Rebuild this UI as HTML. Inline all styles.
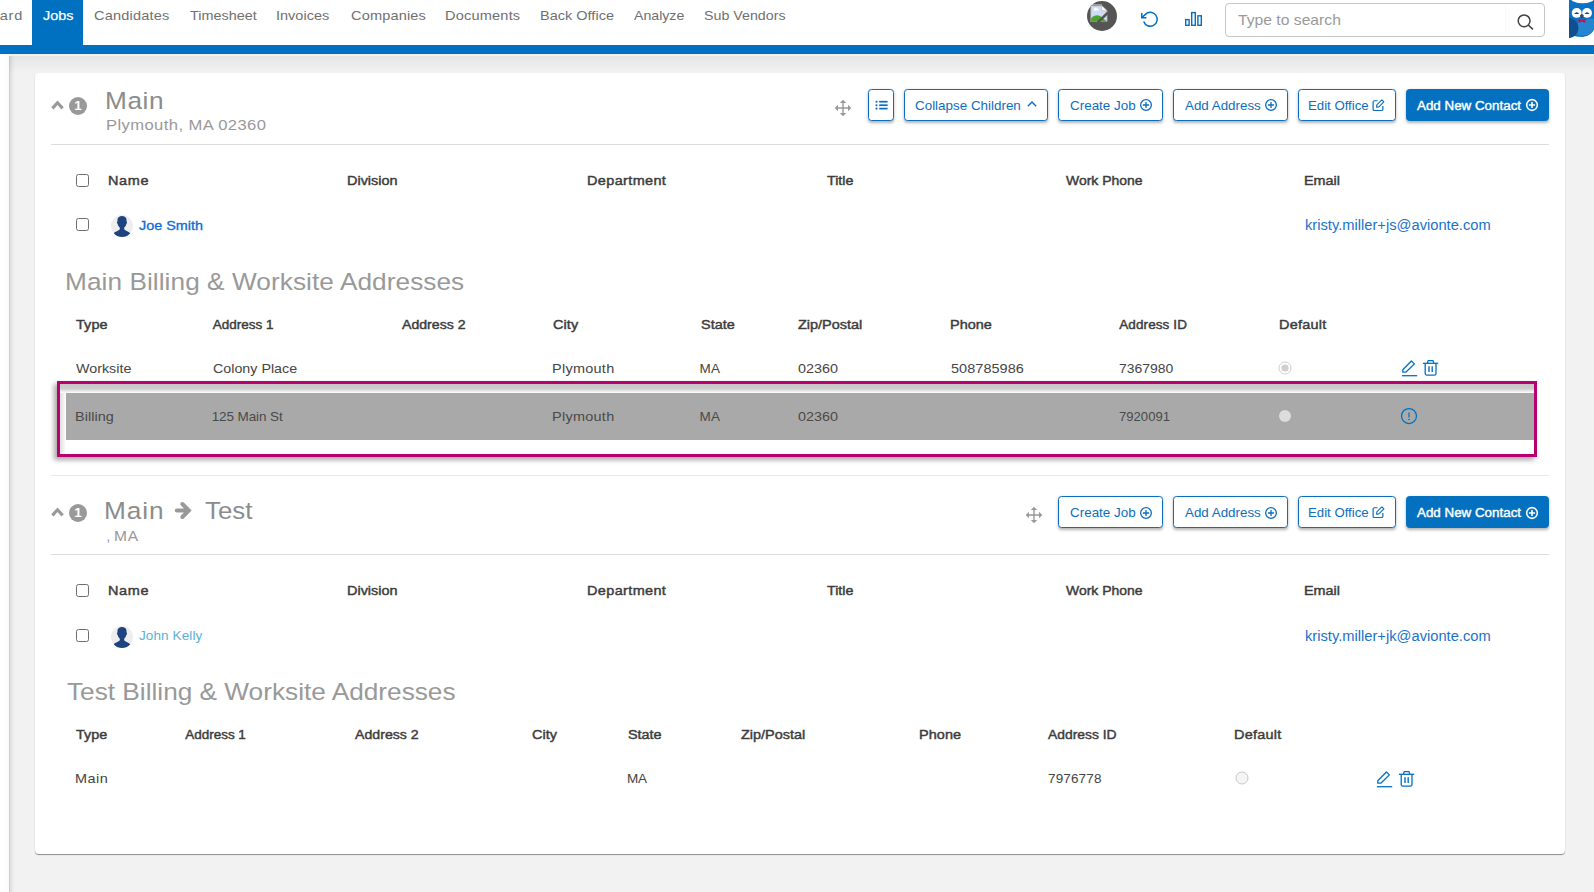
<!DOCTYPE html>
<html lang="en"><head><meta charset="utf-8"><title>Companies - Contacts</title>
<style>
html,body{margin:0;padding:0}
body{width:1594px;height:892px;overflow:hidden;position:relative;background:#f2f2f2;font-family:"Liberation Sans", sans-serif;}
.t{position:absolute;white-space:pre;}
.a{position:absolute;}

.nav{position:absolute;left:0;top:0;width:1594px;height:45px;background:#fff;}
.bar{position:absolute;left:0;top:45px;width:1594px;height:9px;background:#0070c0;}
.tab{position:absolute;left:32px;top:0;width:51px;height:46px;background:#0070c0;}
.main{position:absolute;left:9px;top:55.5px;width:1585px;height:837px;background:linear-gradient(90deg,rgba(0,0,0,.17) 0,rgba(0,0,0,.06) 2px,rgba(0,0,0,0) 6px),linear-gradient(#e5e5e5,#f2f2f2 17px),#f2f2f2;}
.side{position:absolute;left:0;top:54px;width:9px;height:838px;background:linear-gradient(90deg,#fff 0,#fefefe 50%,#fafafa 100%);}
.card{position:absolute;left:35px;top:73px;width:1530px;height:781px;background:#fff;border-radius:4px;box-shadow:0 1px 1px rgba(0,0,0,.42);}
.hr{position:absolute;left:51px;width:1498px;height:1px;background:#dcdcdc;}
.btn{position:absolute;height:30px;border:1px solid #0e6ebd;border-radius:3.5px;background:#fff;box-shadow:0 1.5px 3px rgba(0,0,0,.3);}
.btn.p{background:#0470c0;border-color:#0470c0;}
.cb{position:absolute;width:11px;height:11px;border:1px solid #6e6e6e;border-radius:2.5px;background:#fff;}
.circ{position:absolute;width:18px;height:18px;border-radius:50%;background:#999;}
.hl{position:absolute;left:57px;top:381px;width:1474px;height:70px;border:3px solid #b8006e;background:#fff;box-shadow:-3px 3px 5px rgba(0,0,0,.35);}
.hlg{position:absolute;left:60px;top:384px;width:1474px;height:8.5px;background:linear-gradient(#c6c6c6,#cccccc 50%,#fff);}
.hlg2{position:absolute;left:60px;top:388px;width:6px;height:66px;background:linear-gradient(90deg,#dedede,#fff);}
.grow{position:absolute;left:66px;top:392.5px;width:1468px;height:47px;background:#a9a9a9;}
svg{position:absolute;overflow:visible}

</style></head><body>

<div class="nav"></div><div class="side"></div><div class="main"></div><div class="bar"></div><div class="tab"></div>
<div class="card"></div>
<div class="hr" style="top:144px"></div>
<div class="hr" style="top:475px;background:#e8e8e8"></div>
<div class="hr" style="top:554px"></div>
<div class="hl"></div><div class="hlg2"></div><div class="hlg"></div><div class="grow"></div>
<svg style="left:1087px;top:1px" width="30" height="30" viewBox="0 0 30 30"><circle cx="15" cy="15" r="15" fill="#555"/><g transform="translate(0.2,0.8)">
<path d="M3.6 3.9H14.6L19.9 9V20H3.6Z" fill="#cfdcf6" stroke="#a8a8a8" stroke-width="0.7"/>
<path d="M3.4 2.9H14.8" stroke="#d8d8d8" stroke-width="0.7"/>
<path d="M14.6 3.9V9H19.9Z" fill="#fff" stroke="#b0b0b0" stroke-width="0.6"/>
<ellipse cx="9" cy="7.7" rx="2.7" ry="1.2" fill="#fff"/><circle cx="8.3" cy="7" r="1.2" fill="#fff"/>
<path d="M3.9 19.8V16.5C7 12.3 12.5 12.5 15.3 16L19.6 19.8Z" fill="#4aa52f"/>
<path d="M10.6 20.6L20.6 11" stroke="#555" stroke-width="2.6"/><path d="M3.2 20.5H20.3" stroke="#555" stroke-width="1"/></g></svg>
<svg style="left:1140.6px;top:9.7px" width="18.5" height="18.5" viewBox="0 0 24 24"><g fill="none" stroke="#0070c0" stroke-width="1.95"><path d="M1 4V10H7"/><path d="M3.51 15A9 9 0 1 0 5.64 5.64L1 10"/></g></svg>
<svg style="left:1184px;top:11px" width="19" height="16" viewBox="0 0 19 16"><g fill="none" stroke="#0070c0" stroke-width="1.4"><rect x="1.7" y="8.6" width="3.4" height="5.7"/><rect x="7.7" y="1.6" width="3.6" height="12.7"/><rect x="13.9" y="4.8" width="3.4" height="9.5"/></g></svg>
<div class="a" style="left:1225px;top:3px;width:318px;height:31.5px;border:1px solid #c6c6c6;border-radius:4px;background:#fff"></div>
<div class="a" style="left:1505px;top:4px;width:1px;height:32px;background:#f8f8f8"></div>
<svg style="left:1516px;top:13px" width="18" height="18" viewBox="0 0 18 18"><circle cx="8.1" cy="7.8" r="5.9" fill="none" stroke="#444" stroke-width="1.5"/><path d="M12.3 12L16.9 16.3" stroke="#444" stroke-width="1.6"/></svg>
<svg style="left:1569px;top:0px" width="25" height="39" viewBox="0 0 25 39"><defs><clipPath id="owl"><rect width="25" height="39"/></clipPath></defs><g clip-path="url(#owl)">
<path d="M0 0H26V24C26 32 20 36.9 13 36.9C8 36.9 3 36 0 33Z" fill="#0a72c4"/>
<path d="M9 23C12 20 22 18 25.5 19V26C25 32 20 35.6 13.5 35.6C10 35.6 8 34.5 6.5 33.5Z" fill="#2585cf"/>
<circle cx="-0.8" cy="28" r="10.3" fill="#0f4f8f"/>
<ellipse cx="13.5" cy="-2" rx="12" ry="5.3" fill="#fff"/>
<circle cx="7.7" cy="12.9" r="4.95" fill="#fff"/><circle cx="18" cy="12.9" r="4.95" fill="#fff"/>
<path d="M5.2 14Q7.7 10.6 10.2 14ZM15.5 14Q18 10.6 20.5 14Z" fill="#0a3d7a"/>
<path d="M12.9 13.8L14.9 15.6L13.6 18.3H12.2L10.9 15.6Z" fill="#3a4a6a"/>
<path d="M9.6 18.7L13 20.2L16.4 18.7V22.8L13 21.4L9.6 22.8Z" fill="#c8104a"/>
</g></svg>
<div class="circ" style="left:69px;top:97px"></div><div class="circ" style="left:69px;top:504px"></div>
<svg style="left:50.7px;top:100.2px" width="13" height="10" viewBox="0 0 12.4 9"><path d="M1.3 7.7L6.2 2.4L11.1 7.7" fill="none" stroke="#999" stroke-width="3"/></svg>
<svg style="left:51px;top:507.3px" width="13" height="10" viewBox="0 0 12.4 9"><path d="M1.3 7.7L6.2 2.4L11.1 7.7" fill="none" stroke="#999" stroke-width="3"/></svg>
<svg style="left:170px;top:500px" width="26" height="21" viewBox="170 500 26 21"><path d="M176.8 510.5H188M182.4 504L188.8 510.5L182.4 517" fill="none" stroke="#999" stroke-width="4" stroke-linecap="round" stroke-linejoin="miter"/></svg>
<svg style="left:834px;top:99px" width="18" height="18" viewBox="-9 -9 18 18"><path d="M-6.5 0H6.5M0 -6.5V6.5" stroke="#999" stroke-width="1.4" fill="none"/><path d="M-3.2 -5L0 -8.3L3.2 -5ZM-3.2 5L0 8.3L3.2 5ZM-5 -3.2L-8.3 0L-5 3.2ZM5 -3.2L8.3 0L5 3.2Z" fill="#999"/></svg>
<svg style="left:1024.6px;top:506.4px" width="18" height="18" viewBox="-9 -9 18 18"><path d="M-6.5 0H6.5M0 -6.5V6.5" stroke="#999" stroke-width="1.4" fill="none"/><path d="M-3.2 -5L0 -8.3L3.2 -5ZM-3.2 5L0 8.3L3.2 5ZM-5 -3.2L-8.3 0L-5 3.2ZM5 -3.2L8.3 0L5 3.2Z" fill="#999"/></svg>
<div class="btn" style="left:868px;top:89px;width:24px"></div>
<svg style="left:874.5px;top:99.5px" width="13" height="11" viewBox="0 0 13 11"><g fill="#0470c0"><circle cx="1.5" cy="1.7" r="1.05"/><circle cx="1.5" cy="5.2" r="1.05"/><circle cx="1.5" cy="8.6" r="1.05"/><rect x="4.2" y="0.85" width="8.4" height="1.7"/><rect x="4.2" y="4.35" width="8.4" height="1.7"/><rect x="4.2" y="7.75" width="8.4" height="1.7"/></g></svg>
<div class="btn" style="left:904px;top:89px;width:142px"></div>
<svg style="left:1026.5px;top:100px" width="10" height="8" viewBox="0 0 10 8"><path d="M0.8 6.2L5 1.9L9.2 6.2" fill="none" stroke="#0e6ebd" stroke-width="1.4"/></svg>
<div class="btn" style="left:1058px;top:89px;width:103px"></div>
<svg style="left:1139px;top:98.1px" width="14" height="14" viewBox="-7 -7 14 14"><circle r="5.35" fill="none" stroke="#0e6ebd" stroke-width="1.3"/><path d="M-3.1 0H3.1M0 -3.1V3.1" stroke="#0e6ebd" stroke-width="1.3" fill="none"/></svg>
<div class="btn" style="left:1173px;top:89px;width:113px"></div>
<svg style="left:1263.5px;top:98.1px" width="14" height="14" viewBox="-7 -7 14 14"><circle r="5.35" fill="none" stroke="#0e6ebd" stroke-width="1.3"/><path d="M-3.1 0H3.1M0 -3.1V3.1" stroke="#0e6ebd" stroke-width="1.3" fill="none"/></svg>
<div class="btn" style="left:1298px;top:89px;width:96px"></div>
<svg style="left:1371.6px;top:98.89999999999999px" width="13" height="13" viewBox="0 0 14 14"><path d="M6 1.9H2.6A1.4 1.4 0 0 0 1.2 3.3V11A1.4 1.4 0 0 0 2.6 12.4H10.3A1.4 1.4 0 0 0 11.7 11V7.6" fill="none" stroke="#0e6ebd" stroke-width="1.3"/><path d="M10.6 0.9L12.8 3.1L7.4 8.5L4.9 8.9L5.2 6.3Z" fill="none" stroke="#0e6ebd" stroke-width="1.2" stroke-linejoin="round"/></svg>
<div class="btn p" style="left:1406px;top:89px;width:141px"></div>
<svg style="left:1525px;top:98.1px" width="14" height="14" viewBox="-7 -7 14 14"><circle r="5.35" fill="none" stroke="#fff" stroke-width="1.6"/><path d="M-3.1 0H3.1M0 -3.1V3.1" stroke="#fff" stroke-width="1.6" fill="none"/></svg>
<div class="btn" style="left:1058px;top:496.3px;width:103px"></div>
<svg style="left:1139px;top:505.5px" width="14" height="14" viewBox="-7 -7 14 14"><circle r="5.35" fill="none" stroke="#0e6ebd" stroke-width="1.3"/><path d="M-3.1 0H3.1M0 -3.1V3.1" stroke="#0e6ebd" stroke-width="1.3" fill="none"/></svg>
<div class="btn" style="left:1173px;top:496.3px;width:113px"></div>
<svg style="left:1263.5px;top:505.5px" width="14" height="14" viewBox="-7 -7 14 14"><circle r="5.35" fill="none" stroke="#0e6ebd" stroke-width="1.3"/><path d="M-3.1 0H3.1M0 -3.1V3.1" stroke="#0e6ebd" stroke-width="1.3" fill="none"/></svg>
<div class="btn" style="left:1298px;top:496.3px;width:96px"></div>
<svg style="left:1371.6px;top:506.3px" width="13" height="13" viewBox="0 0 14 14"><path d="M6 1.9H2.6A1.4 1.4 0 0 0 1.2 3.3V11A1.4 1.4 0 0 0 2.6 12.4H10.3A1.4 1.4 0 0 0 11.7 11V7.6" fill="none" stroke="#0e6ebd" stroke-width="1.3"/><path d="M10.6 0.9L12.8 3.1L7.4 8.5L4.9 8.9L5.2 6.3Z" fill="none" stroke="#0e6ebd" stroke-width="1.2" stroke-linejoin="round"/></svg>
<div class="btn p" style="left:1406px;top:496.3px;width:141px"></div>
<svg style="left:1525px;top:505.5px" width="14" height="14" viewBox="-7 -7 14 14"><circle r="5.35" fill="none" stroke="#fff" stroke-width="1.6"/><path d="M-3.1 0H3.1M0 -3.1V3.1" stroke="#fff" stroke-width="1.6" fill="none"/></svg>
<div class="cb" style="left:76px;top:174px"></div>
<div class="cb" style="left:76px;top:218.3px"></div>
<svg style="left:111px;top:215.2px" width="22" height="22" viewBox="-11 -11 22 22"><defs><clipPath id="c226"><circle r="11"/></clipPath></defs><circle r="11" fill="#eeeeee"/><g clip-path="url(#c226)"><path d="M-4.5 -6.5C-4.5 -11.2 4.5 -11.2 4.5 -6.5V-4.6C5.3 -4.6 5.3 -2.6 4.4 -2.3C4 -0.5 3.2 0.8 2.2 1.6V3.2C3 5 7.2 5.2 8.4 7.6V12H-8.4V7.6C-7.2 5.2 -3 5 -2.2 3.2V1.6C-3.2 0.8 -4 -0.5 -4.4 -2.3C-5.3 -2.6 -5.3 -4.6 -4.5 -4.6Z" fill="#1f437f"/></g></svg>
<div class="cb" style="left:76px;top:584.3px"></div>
<div class="cb" style="left:76px;top:628.6px"></div>
<svg style="left:111px;top:625.5px" width="22" height="22" viewBox="-11 -11 22 22"><defs><clipPath id="c636"><circle r="11"/></clipPath></defs><circle r="11" fill="#eeeeee"/><g clip-path="url(#c636)"><path d="M-4.5 -6.5C-4.5 -11.2 4.5 -11.2 4.5 -6.5V-4.6C5.3 -4.6 5.3 -2.6 4.4 -2.3C4 -0.5 3.2 0.8 2.2 1.6V3.2C3 5 7.2 5.2 8.4 7.6V12H-8.4V7.6C-7.2 5.2 -3 5 -2.2 3.2V1.6C-3.2 0.8 -4 -0.5 -4.4 -2.3C-5.3 -2.6 -5.3 -4.6 -4.5 -4.6Z" fill="#1f437f"/></g></svg>
<svg style="left:1278.3px;top:360.6px" width="14" height="14" viewBox="-7 -7 14 14"><circle r="6" fill="#fff" stroke="#cfcfcf" stroke-width="1"/><circle r="3.6" fill="#cfcfcf"/></svg>
<svg style="left:1278.3px;top:408.7px" width="14" height="14" viewBox="-7 -7 14 14"><circle r="6" fill="#dcdcdc"/></svg>
<svg style="left:1401.7px;top:359.9px" width="16" height="17" viewBox="0 0 16 17"><path d="M0.8 9.8L9.4 1L12.4 3.9L3.8 12.2H0.8Z" fill="none" stroke="#0470c0" stroke-width="1.3" stroke-linejoin="round"/><path d="M0 15.7H15.2" stroke="#0470c0" stroke-width="1.3"/></svg>
<svg style="left:1423.2px;top:360.3px" width="16" height="17" viewBox="0 0 16 17"><path d="M0 3.3H15.2" stroke="#0470c0" stroke-width="1.3"/><path d="M4.4 3.3L5.1 0.65H10.1L10.8 3.3" fill="none" stroke="#0470c0" stroke-width="1.3" stroke-linejoin="round"/><path d="M2.2 3.3V13.6A1.5 1.5 0 0 0 3.7 15.1H11.5A1.5 1.5 0 0 0 13 13.6V3.3" fill="none" stroke="#0470c0" stroke-width="1.3"/><path d="M6 6.3V12M9.2 6.3V12" stroke="#0470c0" stroke-width="1.4"/></svg>
<svg style="left:1400.2px;top:407.1px" width="18" height="18" viewBox="-9 -9 18 18"><circle r="7.5" fill="none" stroke="#0070c0" stroke-width="1.25"/><path d="M0 -3.4V1.6" stroke="#0070c0" stroke-width="1.2"/><circle cy="3.5" r="0.8" fill="#0070c0"/></svg>
<svg style="left:1234.5px;top:771px" width="14" height="14" viewBox="-7 -7 14 14"><circle r="6" fill="#f5f5f5" stroke="#c8c8c8" stroke-width="1"/></svg>
<svg style="left:1376.8px;top:770.6px" width="16" height="17" viewBox="0 0 16 17"><path d="M0.8 9.8L9.4 1L12.4 3.9L3.8 12.2H0.8Z" fill="none" stroke="#0470c0" stroke-width="1.3" stroke-linejoin="round"/><path d="M0 15.7H15.2" stroke="#0470c0" stroke-width="1.3"/></svg>
<svg style="left:1399.2px;top:770.9px" width="16" height="17" viewBox="0 0 16 17"><path d="M0 3.3H15.2" stroke="#0470c0" stroke-width="1.3"/><path d="M4.4 3.3L5.1 0.65H10.1L10.8 3.3" fill="none" stroke="#0470c0" stroke-width="1.3" stroke-linejoin="round"/><path d="M2.2 3.3V13.6A1.5 1.5 0 0 0 3.7 15.1H11.5A1.5 1.5 0 0 0 13 13.6V3.3" fill="none" stroke="#0470c0" stroke-width="1.3"/><path d="M6 6.3V12M9.2 6.3V12" stroke="#0470c0" stroke-width="1.4"/></svg>

<span class="t" style="left:-54.57px;top:8.69px;font-size:13.6px;line-height:13.6px;color:#707070;letter-spacing:0.712px;transform:scaleX(1.0700);transform-origin:0 0;">Dashboard</span>
<span class="t" style="left:42.70px;top:8.69px;font-size:13.6px;line-height:13.6px;color:#fff;-webkit-text-stroke:0.25px #fff;transform:scaleX(1.0580);transform-origin:0 0;">Jobs</span>
<span class="t" style="left:93.60px;top:8.69px;font-size:13.6px;line-height:13.6px;color:#707070;letter-spacing:0.175px;transform:scaleX(1.0700);transform-origin:0 0;">Candidates</span>
<span class="t" style="left:190.00px;top:8.69px;font-size:13.6px;line-height:13.6px;color:#707070;transform:scaleX(1.0603);transform-origin:0 0;">Timesheet</span>
<span class="t" style="left:276.23px;top:8.69px;font-size:13.6px;line-height:13.6px;color:#707070;transform:scaleX(1.0677);transform-origin:0 0;">Invoices</span>
<span class="t" style="left:350.50px;top:8.69px;font-size:13.6px;line-height:13.6px;color:#707070;letter-spacing:0.152px;transform:scaleX(1.0700);transform-origin:0 0;">Companies</span>
<span class="t" style="left:445.13px;top:8.69px;font-size:13.6px;line-height:13.6px;color:#707070;letter-spacing:0.184px;transform:scaleX(1.0700);transform-origin:0 0;">Documents</span>
<span class="t" style="left:539.93px;top:8.69px;font-size:13.6px;line-height:13.6px;color:#707070;transform:scaleX(1.0679);transform-origin:0 0;">Back Office</span>
<span class="t" style="left:633.90px;top:8.69px;font-size:13.6px;line-height:13.6px;color:#707070;transform:scaleX(1.0394);transform-origin:0 0;">Analyze</span>
<span class="t" style="left:704.10px;top:8.69px;font-size:13.6px;line-height:13.6px;color:#707070;transform:scaleX(1.0479);transform-origin:0 0;">Sub Vendors</span>
<span class="t" style="left:1238.30px;top:12.20px;font-size:15px;line-height:15px;color:#9a9a9a;transform:scaleX(1.0454);transform-origin:0 0;">Type to search</span>
<span class="t" style="left:74.30px;top:99.27px;font-size:13.5px;line-height:13.5px;color:#fff;font-weight:700;">1</span>
<span class="t" style="left:74.30px;top:506.27px;font-size:13.5px;line-height:13.5px;color:#fff;font-weight:700;">1</span>
<span class="t" style="left:104.56px;top:89.16px;font-size:24.5px;line-height:24.5px;color:#8c8c8c;letter-spacing:0.555px;transform:scaleX(1.0700);transform-origin:0 0;">Main</span>
<span class="t" style="left:106.23px;top:116.78px;font-size:15.5px;line-height:15.5px;color:#999;letter-spacing:0.380px;transform:scaleX(1.0700);transform-origin:0 0;">Plymouth, MA 02360</span>
<span class="t" style="left:104.16px;top:499.16px;font-size:24.5px;line-height:24.5px;color:#8c8c8c;letter-spacing:0.836px;transform:scaleX(1.0700);transform-origin:0 0;">Main</span>
<span class="t" style="left:204.60px;top:499.16px;font-size:24.5px;line-height:24.5px;color:#8c8c8c;transform:scaleX(1.0547);transform-origin:0 0;">Test</span>
<span class="t" style="left:106.20px;top:528.53px;font-size:14.5px;line-height:14.5px;color:#999;">,</span>
<span class="t" style="left:114.03px;top:528.53px;font-size:14.5px;line-height:14.5px;color:#999;letter-spacing:0.697px;transform:scaleX(1.0700);transform-origin:0 0;">MA</span>
<span class="t" style="left:915.00px;top:99.53px;font-size:12.6px;line-height:12.6px;color:#0e6ebd;transform:scaleX(1.0644);transform-origin:0 0;">Collapse Children</span>
<span class="t" style="left:1069.70px;top:99.53px;font-size:12.6px;line-height:12.6px;color:#0e6ebd;transform:scaleX(1.0665);transform-origin:0 0;">Create Job</span>
<span class="t" style="left:1184.50px;top:99.53px;font-size:12.6px;line-height:12.6px;color:#0e6ebd;transform:scaleX(1.0615);transform-origin:0 0;">Add Address</span>
<span class="t" style="left:1307.65px;top:99.53px;font-size:12.6px;line-height:12.6px;color:#0e6ebd;transform:scaleX(1.0480);transform-origin:0 0;">Edit Office</span>
<span class="t" style="left:1417.00px;top:99.53px;font-size:12.6px;line-height:12.6px;color:#fff;-webkit-text-stroke:0.4px #fff;transform:scaleX(1.0617);transform-origin:0 0;">Add New Contact</span>
<span class="t" style="left:1069.70px;top:506.93px;font-size:12.6px;line-height:12.6px;color:#0e6ebd;transform:scaleX(1.0665);transform-origin:0 0;">Create Job</span>
<span class="t" style="left:1184.50px;top:506.93px;font-size:12.6px;line-height:12.6px;color:#0e6ebd;transform:scaleX(1.0615);transform-origin:0 0;">Add Address</span>
<span class="t" style="left:1307.65px;top:506.93px;font-size:12.6px;line-height:12.6px;color:#0e6ebd;transform:scaleX(1.0480);transform-origin:0 0;">Edit Office</span>
<span class="t" style="left:1417.00px;top:506.93px;font-size:12.6px;line-height:12.6px;color:#fff;-webkit-text-stroke:0.4px #fff;transform:scaleX(1.0617);transform-origin:0 0;">Add New Contact</span>
<span class="t" style="left:107.93px;top:173.77px;font-size:13.5px;line-height:13.5px;color:#3c3c3c;-webkit-text-stroke:0.45px #3c3c3c;letter-spacing:0.647px;transform:scaleX(1.0700);transform-origin:0 0;">Name</span>
<span class="t" style="left:347.23px;top:173.77px;font-size:13.5px;line-height:13.5px;color:#3c3c3c;-webkit-text-stroke:0.45px #3c3c3c;transform:scaleX(1.0700);transform-origin:0 0;">Division</span>
<span class="t" style="left:586.63px;top:173.77px;font-size:13.5px;line-height:13.5px;color:#3c3c3c;-webkit-text-stroke:0.45px #3c3c3c;letter-spacing:0.355px;transform:scaleX(1.0700);transform-origin:0 0;">Department</span>
<span class="t" style="left:826.80px;top:173.77px;font-size:13.5px;line-height:13.5px;color:#3c3c3c;-webkit-text-stroke:0.45px #3c3c3c;transform:scaleX(1.0568);transform-origin:0 0;">Title</span>
<span class="t" style="left:1066.00px;top:173.77px;font-size:13.5px;line-height:13.5px;color:#3c3c3c;-webkit-text-stroke:0.45px #3c3c3c;transform:scaleX(1.0335);transform-origin:0 0;">Work Phone</span>
<span class="t" style="left:1303.53px;top:173.77px;font-size:13.5px;line-height:13.5px;color:#3c3c3c;-webkit-text-stroke:0.45px #3c3c3c;transform:scaleX(1.0651);transform-origin:0 0;">Email</span>
<span class="t" style="left:139.00px;top:219.07px;font-size:13.5px;line-height:13.5px;color:#0b6cd6;-webkit-text-stroke:0.3px #0b6cd6;transform:scaleX(1.0668);transform-origin:0 0;">Joe Smith</span>
<span class="t" style="left:1305.20px;top:218.45px;font-size:14px;line-height:14px;color:#1a73c8;transform:scaleX(1.0495);transform-origin:0 0;">kristy.miller+js@avionte.com</span>
<span class="t" style="left:107.93px;top:584.07px;font-size:13.5px;line-height:13.5px;color:#3c3c3c;-webkit-text-stroke:0.45px #3c3c3c;letter-spacing:0.647px;transform:scaleX(1.0700);transform-origin:0 0;">Name</span>
<span class="t" style="left:347.23px;top:584.07px;font-size:13.5px;line-height:13.5px;color:#3c3c3c;-webkit-text-stroke:0.45px #3c3c3c;transform:scaleX(1.0700);transform-origin:0 0;">Division</span>
<span class="t" style="left:586.63px;top:584.07px;font-size:13.5px;line-height:13.5px;color:#3c3c3c;-webkit-text-stroke:0.45px #3c3c3c;letter-spacing:0.355px;transform:scaleX(1.0700);transform-origin:0 0;">Department</span>
<span class="t" style="left:826.80px;top:584.07px;font-size:13.5px;line-height:13.5px;color:#3c3c3c;-webkit-text-stroke:0.45px #3c3c3c;transform:scaleX(1.0568);transform-origin:0 0;">Title</span>
<span class="t" style="left:1066.00px;top:584.07px;font-size:13.5px;line-height:13.5px;color:#3c3c3c;-webkit-text-stroke:0.45px #3c3c3c;transform:scaleX(1.0335);transform-origin:0 0;">Work Phone</span>
<span class="t" style="left:1303.53px;top:584.07px;font-size:13.5px;line-height:13.5px;color:#3c3c3c;-webkit-text-stroke:0.45px #3c3c3c;transform:scaleX(1.0651);transform-origin:0 0;">Email</span>
<span class="t" style="left:139.00px;top:629.37px;font-size:13.5px;line-height:13.5px;color:#5bb0d8;letter-spacing:0.106px;">John Kelly</span>
<span class="t" style="left:1305.20px;top:628.75px;font-size:14px;line-height:14px;color:#1a73c8;transform:scaleX(1.0495);transform-origin:0 0;">kristy.miller+jk@avionte.com</span>
<span class="t" style="left:64.56px;top:269.76px;font-size:24.5px;line-height:24.5px;color:#999;letter-spacing:0.057px;transform:scaleX(1.0700);transform-origin:0 0;">Main Billing &amp; Worksite Addresses</span>
<span class="t" style="left:66.80px;top:680.06px;font-size:24.5px;line-height:24.5px;color:#999;transform:scaleX(1.0700);transform-origin:0 0;">Test Billing &amp; Worksite Addresses</span>
<span class="t" style="left:76.20px;top:317.87px;font-size:13.5px;line-height:13.5px;color:#3c3c3c;-webkit-text-stroke:0.45px #3c3c3c;letter-spacing:0.066px;transform:scaleX(1.0700);transform-origin:0 0;">Type</span>
<span class="t" style="left:212.70px;top:317.87px;font-size:13.5px;line-height:13.5px;color:#3c3c3c;-webkit-text-stroke:0.45px #3c3c3c;">Address 1</span>
<span class="t" style="left:402.00px;top:317.87px;font-size:13.5px;line-height:13.5px;color:#3c3c3c;-webkit-text-stroke:0.45px #3c3c3c;transform:scaleX(1.0450);transform-origin:0 0;">Address 2</span>
<span class="t" style="left:553.00px;top:317.87px;font-size:13.5px;line-height:13.5px;color:#3c3c3c;-webkit-text-stroke:0.45px #3c3c3c;letter-spacing:0.079px;transform:scaleX(1.0700);transform-origin:0 0;">City</span>
<span class="t" style="left:700.60px;top:317.87px;font-size:13.5px;line-height:13.5px;color:#3c3c3c;-webkit-text-stroke:0.45px #3c3c3c;transform:scaleX(1.0700);transform-origin:0 0;">State</span>
<span class="t" style="left:798.00px;top:317.87px;font-size:13.5px;line-height:13.5px;color:#3c3c3c;-webkit-text-stroke:0.45px #3c3c3c;transform:scaleX(1.0694);transform-origin:0 0;">Zip/Postal</span>
<span class="t" style="left:949.93px;top:317.87px;font-size:13.5px;line-height:13.5px;color:#3c3c3c;-webkit-text-stroke:0.45px #3c3c3c;transform:scaleX(1.0700);transform-origin:0 0;">Phone</span>
<span class="t" style="left:1119.20px;top:317.87px;font-size:13.5px;line-height:13.5px;color:#3c3c3c;-webkit-text-stroke:0.45px #3c3c3c;letter-spacing:0.108px;">Address ID</span>
<span class="t" style="left:1278.53px;top:317.87px;font-size:13.5px;line-height:13.5px;color:#3c3c3c;-webkit-text-stroke:0.45px #3c3c3c;letter-spacing:0.222px;transform:scaleX(1.0700);transform-origin:0 0;">Default</span>
<span class="t" style="left:76.20px;top:362.17px;font-size:13.5px;line-height:13.5px;color:#444;transform:scaleX(1.0588);transform-origin:0 0;">Worksite</span>
<span class="t" style="left:212.70px;top:362.17px;font-size:13.5px;line-height:13.5px;color:#444;transform:scaleX(1.0577);transform-origin:0 0;">Colony Place</span>
<span class="t" style="left:551.93px;top:362.17px;font-size:13.5px;line-height:13.5px;color:#444;letter-spacing:0.266px;transform:scaleX(1.0700);transform-origin:0 0;">Plymouth</span>
<span class="t" style="left:699.60px;top:362.17px;font-size:13.5px;line-height:13.5px;color:#444;letter-spacing:0.154px;">MA</span>
<span class="t" style="left:798.00px;top:362.17px;font-size:13.5px;line-height:13.5px;color:#444;transform:scaleX(1.0637);transform-origin:0 0;">02360</span>
<span class="t" style="left:951.00px;top:362.17px;font-size:13.5px;line-height:13.5px;color:#444;letter-spacing:0.063px;transform:scaleX(1.0700);transform-origin:0 0;">508785986</span>
<span class="t" style="left:1119.20px;top:362.17px;font-size:13.5px;line-height:13.5px;color:#444;transform:scaleX(1.0335);transform-origin:0 0;">7367980</span>
<span class="t" style="left:75.13px;top:409.77px;font-size:13.5px;line-height:13.5px;color:#4a4a4a;letter-spacing:0.056px;transform:scaleX(1.0700);transform-origin:0 0;">Billing</span>
<span class="t" style="left:211.70px;top:409.77px;font-size:13.5px;line-height:13.5px;color:#4a4a4a;letter-spacing:-0.100px;">125 Main St</span>
<span class="t" style="left:551.93px;top:409.77px;font-size:13.5px;line-height:13.5px;color:#4a4a4a;letter-spacing:0.266px;transform:scaleX(1.0700);transform-origin:0 0;">Plymouth</span>
<span class="t" style="left:699.60px;top:409.77px;font-size:13.5px;line-height:13.5px;color:#4a4a4a;letter-spacing:0.154px;">MA</span>
<span class="t" style="left:798.00px;top:409.77px;font-size:13.5px;line-height:13.5px;color:#4a4a4a;transform:scaleX(1.0637);transform-origin:0 0;">02360</span>
<span class="t" style="left:1119.20px;top:409.77px;font-size:13.5px;line-height:13.5px;color:#4a4a4a;transform:scaleX(0.9701);transform-origin:0 0;">7920091</span>
<span class="t" style="left:76.30px;top:728.37px;font-size:13.5px;line-height:13.5px;color:#3c3c3c;-webkit-text-stroke:0.45px #3c3c3c;transform:scaleX(1.0635);transform-origin:0 0;">Type</span>
<span class="t" style="left:185.20px;top:728.37px;font-size:13.5px;line-height:13.5px;color:#3c3c3c;-webkit-text-stroke:0.45px #3c3c3c;letter-spacing:-0.011px;">Address 1</span>
<span class="t" style="left:354.80px;top:728.37px;font-size:13.5px;line-height:13.5px;color:#3c3c3c;-webkit-text-stroke:0.45px #3c3c3c;transform:scaleX(1.0483);transform-origin:0 0;">Address 2</span>
<span class="t" style="left:531.90px;top:728.37px;font-size:13.5px;line-height:13.5px;color:#3c3c3c;-webkit-text-stroke:0.45px #3c3c3c;letter-spacing:0.048px;transform:scaleX(1.0700);transform-origin:0 0;">City</span>
<span class="t" style="left:628.00px;top:728.37px;font-size:13.5px;line-height:13.5px;color:#3c3c3c;-webkit-text-stroke:0.45px #3c3c3c;transform:scaleX(1.0669);transform-origin:0 0;">State</span>
<span class="t" style="left:741.40px;top:728.37px;font-size:13.5px;line-height:13.5px;color:#3c3c3c;-webkit-text-stroke:0.45px #3c3c3c;transform:scaleX(1.0694);transform-origin:0 0;">Zip/Postal</span>
<span class="t" style="left:918.93px;top:728.37px;font-size:13.5px;line-height:13.5px;color:#3c3c3c;-webkit-text-stroke:0.45px #3c3c3c;letter-spacing:0.055px;transform:scaleX(1.0700);transform-origin:0 0;">Phone</span>
<span class="t" style="left:1048.00px;top:728.37px;font-size:13.5px;line-height:13.5px;color:#3c3c3c;-webkit-text-stroke:0.45px #3c3c3c;transform:scaleX(1.0264);transform-origin:0 0;">Address ID</span>
<span class="t" style="left:1234.23px;top:728.37px;font-size:13.5px;line-height:13.5px;color:#3c3c3c;-webkit-text-stroke:0.45px #3c3c3c;letter-spacing:0.222px;transform:scaleX(1.0700);transform-origin:0 0;">Default</span>
<span class="t" style="left:75.23px;top:771.87px;font-size:13.5px;line-height:13.5px;color:#444;letter-spacing:0.436px;transform:scaleX(1.0700);transform-origin:0 0;">Main</span>
<span class="t" style="left:627.00px;top:771.87px;font-size:13.5px;line-height:13.5px;color:#444;letter-spacing:-0.246px;">MA</span>
<span class="t" style="left:1048.00px;top:771.87px;font-size:13.5px;line-height:13.5px;color:#444;letter-spacing:0.141px;">7976778</span>
</body></html>
